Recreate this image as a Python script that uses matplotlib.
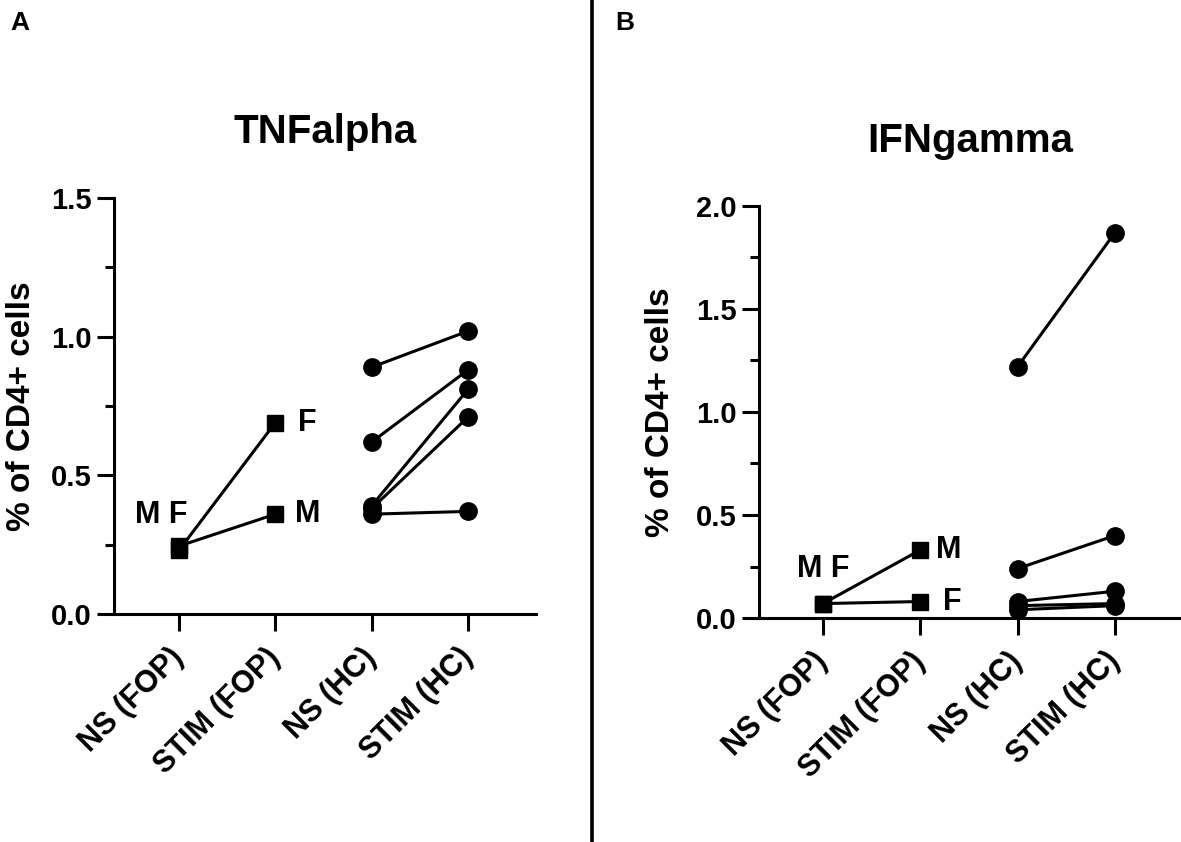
import matplotlib
matplotlib.use("Agg")
import matplotlib.pyplot as plt
from matplotlib.lines import Line2D

plt.rcParams['font.family'] = ['Liberation Sans', 'DejaVu Sans']
plt.rcParams['font.weight'] = 'bold'

groups = ['NS (FOP)', 'STIM (FOP)', 'NS (HC)', 'STIM (HC)']

# TNFalpha, FOP patients (M, F)
tnf_fop_ns = [0.245, 0.23]
tnf_fop_stim = [0.36, 0.69]
# TNFalpha, healthy controls
tnf_hc_ns = [0.89, 0.62, 0.39, 0.38, 0.36]
tnf_hc_stim = [1.02, 0.88, 0.81, 0.71, 0.37]

# IFNgamma, FOP patients (M, F)
ifn_fop_ns = [0.07, 0.07]
ifn_fop_stim = [0.33, 0.08]
# IFNgamma, healthy controls
ifn_hc_ns = [1.22, 0.24, 0.08, 0.06, 0.04]
ifn_hc_stim = [1.87, 0.40, 0.13, 0.07, 0.06]

sex = ['M', 'F']

W, H = 1181, 842
fig = plt.figure(figsize=(W / 100, H / 100), dpi=100)

LW = 2.2


def panel(ax, title, fop_ns, fop_stim, hc_ns, hc_stim, ymax, xlim, labels):
    for a, b in zip(fop_ns, fop_stim):
        ax.plot([0, 1], [a, b], color='black', lw=LW, marker='s', ms=12,
                clip_on=False, zorder=3)
    for a, b in zip(hc_ns, hc_stim):
        ax.plot([2, 3], [a, b], color='black', lw=LW, marker='o', ms=12.5,
                clip_on=False, zorder=3)
    ax.set_xlim(*xlim)
    ax.set_ylim(0, ymax)
    ax.set_xticks(range(len(groups)))
    ax.set_xticklabels(groups, rotation=45, ha='right', va='center',
                       rotation_mode='anchor', fontsize=22, fontweight='bold')
    ax.set_yticks([v * 0.5 for v in range(int(ymax / 0.5) + 1)])
    ax.set_yticks([v * 0.25 for v in range(int(ymax / 0.25) + 1)], minor=True)
    ax.set_yticklabels([f'{v * 0.5:.1f}' for v in range(int(ymax / 0.5) + 1)],
                       fontsize=21, fontweight='bold')
    for s in ['top', 'right']:
        ax.spines[s].set_visible(False)
    for s in ['left', 'bottom']:
        ax.spines[s].set_linewidth(LW)
    ax.tick_params(axis='both', which='major', length=12, width=LW, pad=4)
    ax.tick_params(axis='y', which='minor', length=6.5, width=LW)
    ax.tick_params(axis='x', pad=16)
    ax.set_ylabel('% of CD4+ cells', fontsize=24, fontweight='bold', va='center')
    ax.text(0.5, 1.158, title, transform=ax.transAxes, ha='center',
            va='center', fontsize=29, fontweight='bold')
    for (txt, xy, off, ha) in labels:
        ax.annotate(txt, xy=xy, xytext=off, textcoords='offset points',
                    ha=ha, va='center', fontsize=22, fontweight='bold')


axA = fig.add_axes([114 / W, 1 - 614 / H, 422 / W, 416 / H])
panel(axA, 'TNFalpha', tnf_fop_ns, tnf_fop_stim, tnf_hc_ns, tnf_hc_stim, 1.5,
      (-0.675, 3.706),
      [('M F', (0, tnf_fop_ns[0]), (-13, 22), 'center'),
       (sex[1], (1, tnf_fop_stim[1]), (16.5, 0), 'left'),
       (sex[0], (1, tnf_fop_stim[0]), (14.4, 0), 'left')])
axA.yaxis.set_label_coords(-0.22, 0.5)

axB = fig.add_axes([759 / W, 1 - 618 / H, 422 / W, 412 / H])
panel(axB, 'IFNgamma', ifn_fop_ns, ifn_fop_stim, ifn_hc_ns, ifn_hc_stim, 2.0,
      (-0.658, 3.68),
      [('M F', (0, ifn_fop_ns[0]), (0, 25), 'center'),
       (sex[0], (1, ifn_fop_stim[0]), (11.5, 0), 'left'),
       (sex[1], (1, ifn_fop_stim[1]), (16, 0), 'left')])
axB.yaxis.set_label_coords(-0.233, 0.5)

fig.add_artist(Line2D([592 / W, 592 / W], [0, 1], transform=fig.transFigure,
                      color='black', lw=2.6))
fig.text(10 / W, 1 - 11 / H, 'A', ha='left', va='top', fontsize=19,
         fontweight='bold')
fig.text(615 / W, 1 - 11 / H, 'B', ha='left', va='top', fontsize=19,
         fontweight='bold')

fig.savefig('out.png', dpi=100, facecolor='white')
